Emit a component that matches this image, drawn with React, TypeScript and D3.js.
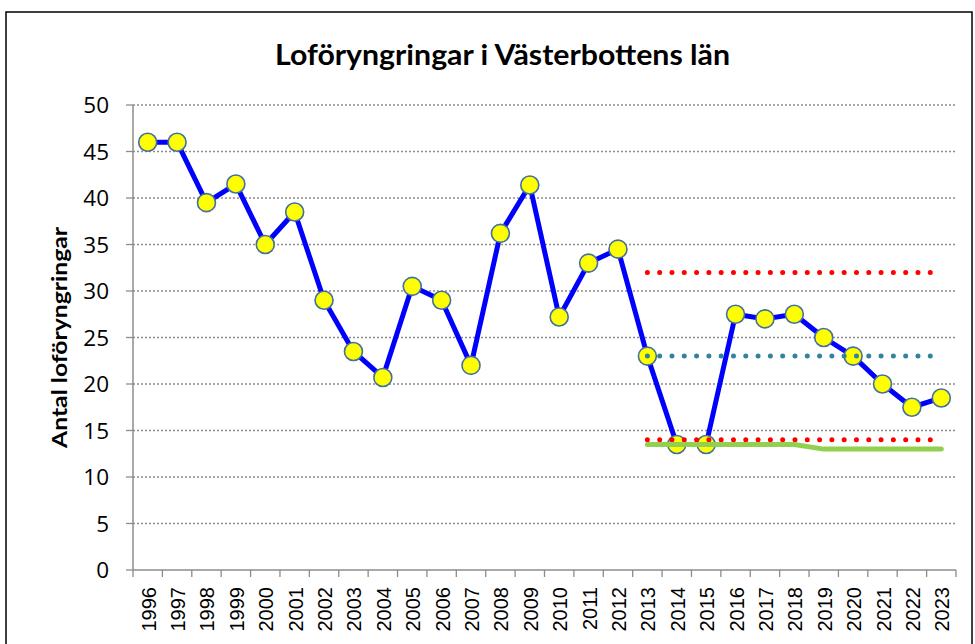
import React from "react";
import * as d3 from "d3";

const years = ["1996","1997","1998","1999","2000","2001","2002","2003","2004","2005","2006","2007","2008","2009","2010","2011","2012","2013","2014","2015","2016","2017","2018","2019","2020","2021","2022","2023"];
const counts = [46, 46, 39.5, 41.5, 35, 38.5, 29, 23.5, 20.7, 30.5, 29, 22, 36.2, 41.4, 27.2, 33, 34.5, 23, 13.5, 13.5, 27.5, 27, 27.5, 25, 23, 20, 17.5, 18.5];
const refYears = ["2013","2014","2015","2016","2017","2018","2019","2020","2021","2022","2023"];
const upperLimit = [32, 32, 32, 32, 32, 32, 32, 32, 32, 32, 32];
const meanLevel = [23, 23, 23, 23, 23, 23, 23, 23, 23, 23, 23];
const lowerLimit = [14, 14, 14, 14, 14, 14, 14, 14, 14, 14, 14];
const targetLevel = [13.5, 13.5, 13.5, 13.5, 13.5, 13.5, 13, 13, 13, 13, 13];
const yTicks = [0, 5, 10, 15, 20, 25, 30, 35, 40, 45, 50];

const W = 975, H = 644;
const left = 133, right = 956, top = 105, bottom = 570;

export default function App() {
  const x = d3.scaleBand<string>().domain(years).range([left, right]);
  const cx = (yr: string) => (x(yr) as number) + x.bandwidth() / 2;
  const y = d3.scaleLinear().domain([0, 50]).range([bottom, top]);

  const line = d3.line<number>().x((_, i) => cx(years[i])).y((d) => y(d));
  const refLine = d3.line<number>().x((_, i) => cx(refYears[i])).y((d) => y(d));

  const font = "Lato, 'Open Sans', Arial, sans-serif";

  return (
    <svg width={W} height={H} style={{ position: "absolute", left: 0, top: 0 }}>
      <rect x={0} y={0} width={W} height={H} fill="#fff" />
      <rect x={6} y={12} width={966} height={700} fill="#fff" stroke="#000" strokeWidth={1.5} />
      <text x={275} y={65} fontFamily={font} fontWeight="bold" fontSize={29} fill="#000" textLength={455} lengthAdjust="spacingAndGlyphs">
        Loföryngringar i Västerbottens län
      </text>
      <text transform={`translate(67,448) rotate(-90)`} fontFamily={font} fontWeight="bold" fontSize={21} fill="#000" textLength={221} lengthAdjust="spacingAndGlyphs">
        Antal loföryngringar
      </text>
      {yTicks.map((t) => (
        <g key={t}>
          {t > 0 && (
            <line x1={left} x2={right} y1={y(t)} y2={y(t)} stroke="#8c8c8c" strokeWidth={1.3} strokeDasharray="2,2" />
          )}
          <line x1={left - 7} x2={left} y1={y(t)} y2={y(t)} stroke="#8c8c8c" strokeWidth={1.3} />
          <text x={109} y={y(t) + 8} textAnchor="end" fontFamily="'Open Sans', Arial, sans-serif" fontSize={22.5} fill="#000">
            {t}
          </text>
        </g>
      ))}
      <line x1={left} x2={left} y1={top} y2={bottom} stroke="#8c8c8c" strokeWidth={1.5} />
      <line x1={left} x2={right} y1={bottom} y2={bottom} stroke="#8c8c8c" strokeWidth={1.5} />
      {years.concat(["end"]).map((yr, i) => {
        const xx = left + i * x.bandwidth();
        return <line key={"t" + i} x1={xx} x2={xx} y1={bottom} y2={bottom + 7} stroke="#8c8c8c" strokeWidth={1.3} />;
      })}
      {years.map((yr) => (
        <text key={yr} transform={`translate(${cx(yr) + 8},${bottom + 17}) rotate(-90)`} textAnchor="end" fontFamily="'Liberation Sans', Arial, sans-serif" fontSize={20} fill="#000">
          {yr}
        </text>
      ))}
      <path d={line(counts) as string} fill="none" stroke="#0000ff" strokeWidth={5} strokeLinejoin="round" />
      {counts.map((v, i) => (
        <circle key={i} cx={cx(years[i])} cy={y(v)} r={9} fill="#ffff00" stroke="#41719c" strokeWidth={1.6} />
      ))}
      <path d={refLine(upperLimit) as string} fill="none" stroke="#ff0000" strokeWidth={5} strokeLinecap="round" strokeDasharray="0,12.3" />
      <path d={refLine(lowerLimit) as string} fill="none" stroke="#ff0000" strokeWidth={5} strokeLinecap="round" strokeDasharray="0,12.3" />
      <path d={refLine(meanLevel) as string} fill="none" stroke="#31849b" strokeWidth={5} strokeLinecap="round" strokeDasharray="0,12.3" />
      <path d={refLine(targetLevel) as string} fill="none" stroke="#92d050" strokeWidth={5} strokeLinecap="round" strokeLinejoin="round" />
    </svg>
  );
}
